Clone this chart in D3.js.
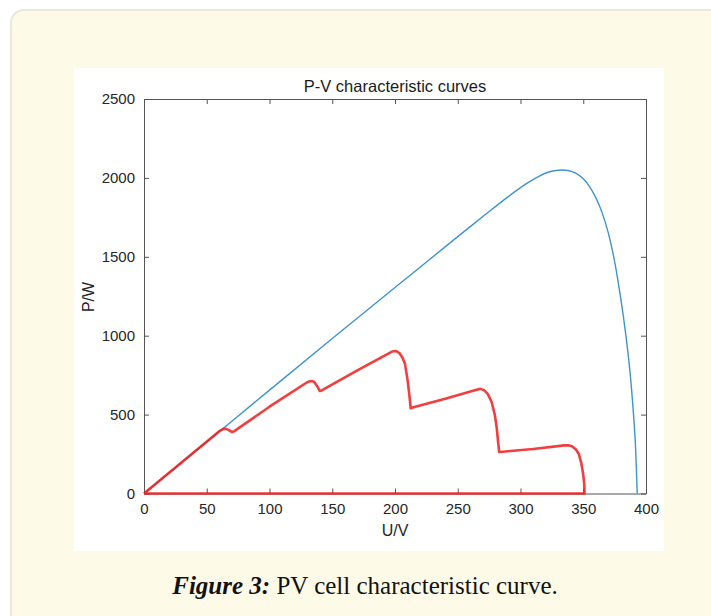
<!DOCTYPE html>
<html>
<head>
<meta charset="utf-8">
<script src="https://cdn.jsdelivr.net/npm/d3@7"></script>
<style>
  html, body { margin: 0; padding: 0; background: #ffffff; }
  svg { display: block; }
</style>
</head>
<body>
<script>
// ---- data ----
const chartTitle = "P-V characteristic curves";
const xLabel = "U/V";
const yLabel = "P/W";
const xTicks = [0, 50, 100, 150, 200, 250, 300, 350, 400];
const yTicks = [0, 500, 1000, 1500, 2000, 2500];
const captionBold = "Figure 3:";
const captionText = " PV cell characteristic curve.";

// uniform irradiance P-V curve (blue)
const uniformV = [0, 50, 100, 150, 200, 250, 270, 290, 305, 315, 322, 328, 333, 338, 344, 350, 355, 360, 365, 370, 375, 380, 384, 387, 389.5, 391.5, 393];
const uniformP = [0, 327, 655, 982, 1305, 1628, 1755, 1880, 1965, 2012, 2036, 2047, 2050, 2047, 2030, 1994, 1945, 1875, 1780, 1650, 1470, 1230, 1000, 790, 560, 320, 0];

// partial shading P-V curve (red)
const shadedV = [0, 60, 63, 65.5, 68, 70, 72, 100, 130, 133, 135.5, 138, 140, 142, 170, 198, 201, 203.5, 206, 208, 210, 211.5, 212.5, 214, 240, 265, 268, 271, 274, 277, 279.5, 281, 282.5, 283, 286, 310, 335, 338, 341, 344, 346.5, 348.5, 350, 350.8, 351, 0];
const shadedP = [0, 395, 408, 410, 400, 390, 395, 550, 705, 713, 708, 680, 650, 655, 780, 900, 903, 890, 860, 820, 720, 620, 540, 545, 600, 658, 663, 655, 630, 580, 500, 420, 300, 263, 265, 282, 305, 306, 300, 280, 250, 190, 120, 60, 0, 0];

// ---- layout ----
const W = 711, H = 616;
const svg = d3.select("body").append("svg").attr("width", W).attr("height", H);

// outer panel
svg.append("rect")
  .attr("x", 11).attr("y", 10).attr("width", 730).attr("height", 640)
  .attr("rx", 13).attr("ry", 13)
  .attr("fill", "#fefae8").attr("stroke", "#ebe9de").attr("stroke-width", 2);

// figure white box
svg.append("rect")
  .attr("x", 74).attr("y", 68).attr("width", 590).attr("height", 483)
  .attr("fill", "#ffffff");

const plot = { left: 144, right: 646, top: 99, bottom: 493.5 };
const x = d3.scaleLinear().domain([0, 400]).range([plot.left, plot.right]);
const y = d3.scaleLinear().domain([0, 2500]).range([plot.bottom, plot.top]);

const axisColor = "#262626";
const lineColor = "#555555";
const tickFont = "Liberation Sans, Arial, sans-serif";

// axes
const gx = svg.append("g").attr("transform", `translate(0,${plot.bottom})`)
  .call(d3.axisBottom(x).tickValues(xTicks).tickSizeInner(-5).tickSizeOuter(0).tickPadding(10).tickFormat(d3.format("d")));
const gy = svg.append("g").attr("transform", `translate(${plot.left},0)`)
  .call(d3.axisLeft(y).tickValues(yTicks).tickSizeInner(-5).tickSizeOuter(0).tickPadding(9).tickFormat(d3.format("d")));
const gxt = svg.append("g").attr("transform", `translate(0,${plot.top})`)
  .call(d3.axisTop(x).tickValues(xTicks).tickSizeInner(-5).tickSizeOuter(0).tickFormat(""));
const gyr = svg.append("g").attr("transform", `translate(${plot.right},0)`)
  .call(d3.axisRight(y).tickValues(yTicks).tickSizeInner(-5).tickSizeOuter(0).tickFormat(""));

[gx, gy, gxt, gyr].forEach(g => {
  g.select(".domain").attr("stroke", lineColor).attr("stroke-width", 1);
  g.selectAll(".tick line").attr("stroke", lineColor).attr("stroke-width", 1);
  g.selectAll(".tick text").attr("fill", axisColor)
    .style("font-family", tickFont).style("font-size", "15px");
});

// curves
const uniformData = uniformV.map((v, i) => [v, uniformP[i]]);
const shadedData = shadedV.map((v, i) => [v, shadedP[i]]);

svg.append("path").datum(uniformData)
  .attr("d", d3.line().x(d => x(d[0])).y(d => y(d[1])).curve(d3.curveCatmullRom.alpha(0.5)))
  .attr("fill", "none").attr("stroke", "#3f94cc").attr("stroke-width", 1.4);

svg.append("path").datum(shadedData)
  .attr("d", d3.line().x(d => x(d[0])).y(d => y(d[1])).curve(d3.curveLinear))
  .attr("fill", "none").attr("stroke", "#f01c1c").attr("stroke-width", 2.6)
  .attr("stroke-opacity", 0.85).attr("stroke-linejoin", "round");

// title and labels
svg.append("text").attr("x", (plot.left + plot.right) / 2).attr("y", 92)
  .attr("text-anchor", "middle").attr("fill", "#1a1a1a")
  .style("font-family", tickFont).style("font-size", "16.5px").text(chartTitle);

svg.append("text").attr("x", (plot.left + plot.right) / 2).attr("y", 536)
  .attr("text-anchor", "middle").attr("fill", axisColor)
  .style("font-family", tickFont).style("font-size", "16px").text(xLabel);

svg.append("text").attr("transform", `translate(94,297) rotate(-90)`)
  .attr("text-anchor", "middle").attr("fill", axisColor)
  .style("font-family", tickFont).style("font-size", "16px").text(yLabel);

// caption
const cap = svg.append("text").attr("x", 365).attr("y", 594)
  .attr("text-anchor", "middle").attr("fill", "#111")
  .style("font-family", "Liberation Serif, DejaVu Serif, serif").style("font-size", "25px");
cap.append("tspan").style("font-weight", "bold").style("font-style", "italic").text(captionBold);
cap.append("tspan").text(captionText);
</script>
</body>
</html>
